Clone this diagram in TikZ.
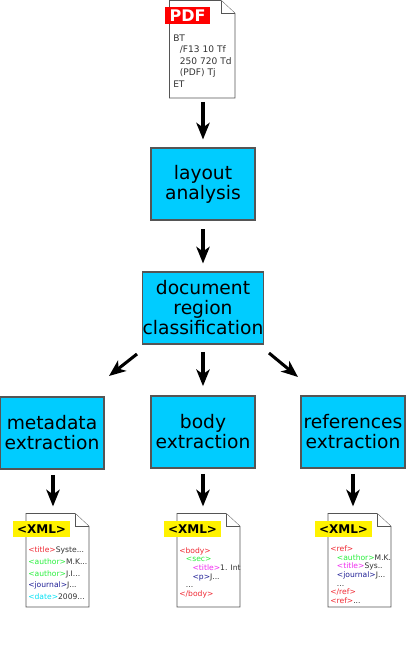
\documentclass[tikz,border=0pt]{standalone}
\usepackage{fontspec}
\setmainfont{DejaVu Sans}
\usetikzlibrary{arrows.meta}
\definecolor{boxblue}{RGB}{0,204,255}
\definecolor{xgreen}{RGB}{40,240,60}
\definecolor{xred}{RGB}{240,40,50}
\definecolor{xnavy}{RGB}{30,30,150}
\definecolor{xmag}{RGB}{240,40,240}
\definecolor{xcyan}{RGB}{0,225,245}
\definecolor{edge}{RGB}{85,85,85}
\newcommand{\tg}[2]{\textcolor{#1}{#2}}
\newcommand{\ind}[1]{\hspace*{#1pt}}
\tikzset{
  x=0.75pt,y=-0.75pt,
  stepbox/.style={draw=edge,line width=0.8pt,fill=boxblue,minimum width=78pt,minimum height=54pt,inner sep=0pt,align=center,font=\fontsize{14}{15}\selectfont},
  docpage/.style={draw=edge,line width=0.7pt,fill=white,line join=miter},
  docanchor/.style={inner sep=0pt,minimum width=47.5pt,minimum height=70pt},
  flow/.style={line width=2.3pt,black,-{Stealth[length=12.5pt,width=10pt,inset=3.5pt]}},
  xmllabel/.style={fill=yellow,inner sep=0pt,minimum width=42.5pt,minimum height=12pt,font=\fontsize{9}{10}\bfseries\selectfont},
  pdflabel/.style={fill=red,text=white,inner sep=0pt,minimum width=34pt,minimum height=12.5pt,font=\fontsize{12}{12}\bfseries\selectfont},
  code/.style={inner sep=0pt,anchor=north west,align=left,text=black!80},
}
\newcommand{\docshape}[4]{% left, right, top, bottom
  \draw[docpage] (#1,#3) -- ({#2-14},#3) -- (#2,{#3+13}) -- (#2,#4) -- (#1,#4) -- cycle;
  \draw[docpage] ({#2-14},#3) -- ({#2-14},{#3+13}) -- (#2,{#3+13});
}
\begin{document}
\begin{tikzpicture}
\useasboundingbox (0,0) rectangle (407,657);

% boxes
\node[stepbox] (layout) at (203,184) {layout\\analysis};
\node[stepbox] (region) at (203,308) {document\\region\\classification};
\node[stepbox] (meta) at (52,433) {metadata\\extraction};
\node[stepbox] (body) at (203,432) {body\\extraction};
\node[stepbox] (refs) at (353,432) {references\\extraction};

% PDF document
\docshape{169.5}{235}{0.5}{98}
\node[docanchor] (pdfdoc) at (202,49) {};
\node[pdflabel] (pdftag) at (187.5,15.5) {PDF};
\node[code,font=\fontsize{6.8}{8.6}\selectfont] (pdfcode) at (173,34.5) {BT\\\ind{5}/F13 10 Tf\\\ind{5}250 720 Td\\\ind{5}(PDF) Tj\\ET};

% XML documents
\docshape{26}{89}{513.5}{607}
\node[docanchor] (metadoc) at (57.5,560) {};
\node[xmllabel] (metatag) at (41.5,529) {<XML>};
\node[code,font=\fontsize{5.7}{8.8}\selectfont] (metacode) at (28,546.5) {\tg{xred}{<title>}Syste...\\\tg{xgreen}{<author>}M.K...\\\tg{xgreen}{<author>}J.I...\\\tg{xnavy}{<journal>}J...\\\tg{xcyan}{<date>}2009...};

\docshape{177}{240}{513.5}{607}
\node[docanchor] (bodydoc) at (208.5,560) {};
\node[xmllabel] (bodytag) at (192.5,529) {<XML>};
\node[code,font=\fontsize{5.7}{6.5}\selectfont] (bodycode) at (179,547) {\tg{xred}{<body>}\\\ind{5}\tg{xgreen}{<sec>}\\\ind{10}\tg{xmag}{<title>}1. Int\\\ind{10}\tg{xnavy}{<p>}J...\\\ind{5}...\\\tg{xred}{</body>}};

\docshape{328}{391}{513.5}{607}
\node[docanchor] (refsdoc) at (359.5,560) {};
\node[xmllabel] (refstag) at (343.5,529) {<XML>};
\node[code,font=\fontsize{5.7}{6.5}\selectfont] (refscode) at (330,545.5) {\tg{xred}{<ref>}\\\ind{5}\tg{xgreen}{<author>}M.K.\\\ind{5}\tg{xmag}{<title>}Sys..\\\ind{5}\tg{xnavy}{<journal>}J...\\\ind{5}...\\\tg{xred}{</ref>}\\\tg{xred}{<ref>}...};

% connectors
\coordinate (toMetaS) at (137,354);
\coordinate (toMetaE) at (109,376);
\coordinate (toRefsS) at (269,353);
\coordinate (toRefsE) at (298,377);
\draw[flow,shorten <=4.5pt,shorten >=6pt] (pdfdoc.south -| layout) -- (layout.north);
\draw[flow,shorten <=6.5pt,shorten >=6pt] (layout.south) -- (region.north);
\draw[flow,shorten <=5.5pt,shorten >=7pt] (region.south) -- (body.north);
\draw[flow] (toMetaS) -- (toMetaE);
\draw[flow] (toRefsS) -- (toRefsE);
\draw[flow,shorten <=4pt,shorten >=5pt] (meta.south -| metadoc.north) ++(-4.5,0) coordinate (ms) (ms) -- (ms |- metadoc.north);
\draw[flow,shorten <=4pt,shorten >=5pt] (body.south) -- (body.south |- bodydoc.north);
\draw[flow,shorten <=4pt,shorten >=5pt] (refs.south) -- (refs.south |- refsdoc.north);
\end{tikzpicture}
\end{document}
